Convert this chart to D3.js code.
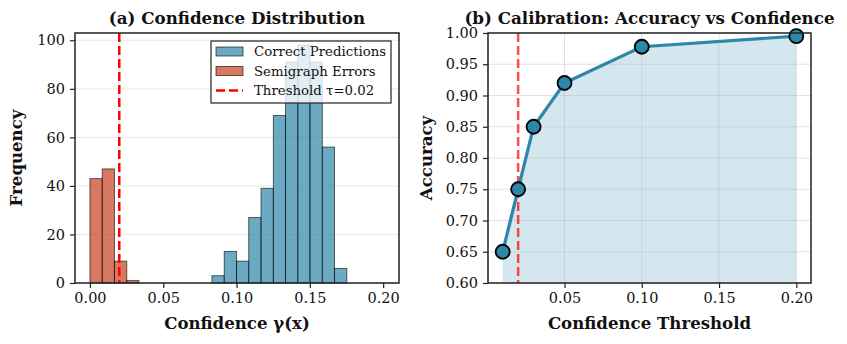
<!DOCTYPE html>
<html lang="en">
<head>
<meta charset="UTF-8">
<title>Confidence and Calibration</title>
<style>
  body { margin: 0; background: #fff; }
  svg text { font-family: "DejaVu Serif", serif; fill: #111; }
  .tick text { font-size: 14.5px; }
  .title { font-size: 16.7px; font-weight: bold; }
  .label { font-size: 16.6px; font-weight: bold; }
</style>
</head>
<body>
<svg id="chart" width="847" height="344"></svg>
<script src="https://d3js.org/d3.v7.min.js"></script>
<script>
// (a) histogram bins
var correctEdges = [0.0832, 0.0916, 0.1000, 0.1083, 0.1167, 0.1251, 0.1334, 0.1418, 0.1501, 0.1585, 0.1668, 0.1752];
var correctCounts = [3, 13, 9, 27, 39, 69, 91, 98, 91, 56, 6];
var errorEdges = [0.0, 0.0084, 0.0167, 0.0251, 0.0334];
var errorCounts = [43, 47, 9, 1];
var threshold = 0.02;
var histXTicks = [0.00, 0.05, 0.10, 0.15, 0.20];
var histYTicks = [0, 20, 40, 60, 80, 100];

// (b) calibration curve
var calThresholds = [0.01, 0.02, 0.03, 0.05, 0.10, 0.20];
var calAccuracy = [0.65, 0.75, 0.85, 0.92, 0.978, 0.995];
var calXTicks = [0.05, 0.10, 0.15, 0.20];
var calYTicks = [0.60, 0.65, 0.70, 0.75, 0.80, 0.85, 0.90, 0.95, 1.00];

var blue = "#2E86AB", orange = "#C73E1D";
var svg = d3.select("#chart");
svg.append("rect").attr("width", 847).attr("height", 344).attr("fill", "#fff");

// ---------- panel (a) ----------
var a = {left: 75, right: 399, top: 33, bottom: 283};
var xa = d3.scaleLinear().domain([-0.0102, 0.2108]).range([a.left, a.right]);
var ya = d3.scaleLinear().domain([0, 103]).range([a.bottom, a.top]);
var ga = svg.append("g");

ga.selectAll("line.grid").data(histYTicks).enter().append("line")
    .attr("x1", a.left).attr("x2", a.right)
    .attr("y1", d => ya(d)).attr("y2", d => ya(d))
    .attr("stroke", "#b0b0b0").attr("stroke-opacity", 0.3).attr("stroke-width", 1);

function bars(g, edges, counts, color) {
    g.selectAll(null).data(counts).enter().append("rect")
        .attr("x", (d, i) => xa(edges[i]))
        .attr("width", (d, i) => xa(edges[i + 1]) - xa(edges[i]))
        .attr("y", d => ya(d))
        .attr("height", d => ya(0) - ya(d))
        .attr("fill", color).attr("fill-opacity", 0.7)
        .attr("stroke", "#000").attr("stroke-opacity", 0.6).attr("stroke-width", 1);
}
bars(ga, correctEdges, correctCounts, blue);
bars(ga, errorEdges, errorCounts, orange);

ga.append("line")
    .attr("x1", xa(threshold)).attr("x2", xa(threshold))
    .attr("y1", a.top).attr("y2", a.bottom)
    .attr("stroke", "red").attr("stroke-width", 2.5).attr("stroke-dasharray", "9,4");

ga.append("g").attr("transform", "translate(0," + a.bottom + ")")
    .call(d3.axisBottom(xa).tickValues(histXTicks).tickFormat(d3.format(".2f")).tickSize(5).tickPadding(5));
ga.append("g").attr("transform", "translate(" + a.left + ",0)")
    .call(d3.axisLeft(ya).tickValues(histYTicks).tickSize(5).tickPadding(5));

ga.append("rect").attr("x", a.left).attr("y", a.top)
    .attr("width", a.right - a.left).attr("height", a.bottom - a.top)
    .attr("fill", "none").attr("stroke", "#222").attr("stroke-width", 1.5);

// legend
var lg = ga.append("g");
lg.append("rect").attr("x", 211).attr("y", 41).attr("width", 180).attr("height", 62)
    .attr("fill", "#fff").attr("fill-opacity", 0.8).attr("stroke", "#222").attr("stroke-width", 1.2);
var legendItems = [
    {name: "Correct Predictions", color: blue, kind: "bar"},
    {name: "Semigraph Errors", color: orange, kind: "bar"},
    {name: "Threshold \u03c4=0.02", color: "red", kind: "line"}
];
legendItems.forEach(function (d, i) {
    var cy = 51.5 + i * 19.5;
    if (d.kind === "bar") {
        lg.append("rect").attr("x", 216).attr("y", cy - 4.5).attr("width", 27).attr("height", 9)
            .attr("fill", d.color).attr("fill-opacity", 0.7)
            .attr("stroke", "#000").attr("stroke-opacity", 0.6);
    } else {
        lg.append("line").attr("x1", 216).attr("x2", 243).attr("y1", cy).attr("y2", cy)
            .attr("stroke", d.color).attr("stroke-width", 2.5).attr("stroke-dasharray", "9,4");
    }
    lg.append("text").attr("x", 254).attr("y", cy + 4.5).style("font-size", "13.3px").text(d.name);
});

ga.append("text").attr("class", "title").attr("x", (a.left + a.right) / 2).attr("y", 24)
    .attr("text-anchor", "middle").text("(a) Confidence Distribution");
ga.append("text").attr("class", "label").attr("x", (a.left + a.right) / 2).attr("y", 329)
    .attr("text-anchor", "middle").text("Confidence \u03b3(x)");
ga.append("text").attr("class", "label")
    .attr("transform", "translate(22," + (a.top + a.bottom) / 2 + ") rotate(-90)")
    .attr("text-anchor", "middle").text("Frequency");

// ---------- panel (b) ----------
var b = {left: 488, right: 811, top: 33, bottom: 283};
var xb = d3.scaleLinear().domain([0.0005, 0.2095]).range([b.left, b.right]);
var yb = d3.scaleLinear().domain([0.6, 1.0]).range([b.bottom, b.top]);
var gb = svg.append("g");
var pts = calThresholds.map((t, i) => [t, calAccuracy[i]]);

gb.append("path").datum(pts)
    .attr("d", d3.area().x(d => xb(d[0])).y0(yb(0.6)).y1(d => yb(d[1])))
    .attr("fill", blue).attr("fill-opacity", 0.2);

gb.selectAll("line.gx").data(calXTicks).enter().append("line")
    .attr("x1", d => xb(d)).attr("x2", d => xb(d)).attr("y1", b.top).attr("y2", b.bottom)
    .attr("stroke", "#b0b0b0").attr("stroke-opacity", 0.35);
gb.selectAll("line.gy").data(calYTicks).enter().append("line")
    .attr("x1", b.left).attr("x2", b.right).attr("y1", d => yb(d)).attr("y2", d => yb(d))
    .attr("stroke", "#b0b0b0").attr("stroke-opacity", 0.35);

gb.append("line")
    .attr("x1", xb(threshold)).attr("x2", xb(threshold))
    .attr("y1", b.top).attr("y2", b.bottom)
    .attr("stroke", "red").attr("stroke-opacity", 0.7).attr("stroke-width", 2.5).attr("stroke-dasharray", "9,4");

gb.append("path").datum(pts)
    .attr("d", d3.line().x(d => xb(d[0])).y(d => yb(d[1])))
    .attr("fill", "none").attr("stroke", blue).attr("stroke-width", 3.2);

gb.selectAll("circle").data(pts).enter().append("circle")
    .attr("cx", d => xb(d[0])).attr("cy", d => yb(d[1])).attr("r", 7)
    .attr("fill", blue).attr("stroke", "#000").attr("stroke-width", 1.8);

gb.append("g").attr("transform", "translate(0," + b.bottom + ")")
    .call(d3.axisBottom(xb).tickValues(calXTicks).tickFormat(d3.format(".2f")).tickSize(5).tickPadding(5));
gb.append("g").attr("transform", "translate(" + b.left + ",0)")
    .call(d3.axisLeft(yb).tickValues(calYTicks).tickFormat(d3.format(".2f")).tickSize(5).tickPadding(5));

gb.append("rect").attr("x", b.left).attr("y", b.top)
    .attr("width", b.right - b.left).attr("height", b.bottom - b.top)
    .attr("fill", "none").attr("stroke", "#222").attr("stroke-width", 1.5);

gb.append("text").attr("class", "title").attr("x", (b.left + b.right) / 2).attr("y", 24)
    .attr("text-anchor", "middle").text("(b) Calibration: Accuracy vs Confidence");
gb.append("text").attr("class", "label").attr("x", (b.left + b.right) / 2).attr("y", 329)
    .attr("text-anchor", "middle").text("Confidence Threshold");
gb.append("text").attr("class", "label")
    .attr("transform", "translate(432," + (b.top + b.bottom) / 2 + ") rotate(-90)")
    .attr("text-anchor", "middle").text("Accuracy");

svg.selectAll(".domain").remove();
svg.selectAll(".tick line").attr("stroke", "#222").attr("stroke-width", 1.2);
</script>
</body>
</html>
